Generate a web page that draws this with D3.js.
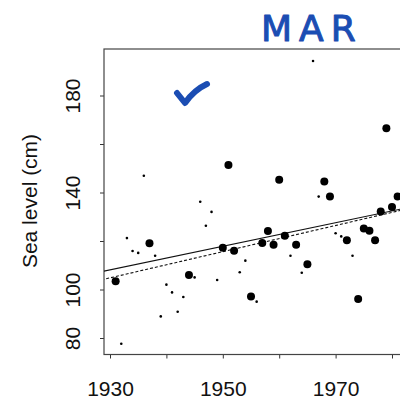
<!DOCTYPE html>
<html>
<head>
<meta charset="utf-8">
<script src="https://cdn.jsdelivr.net/npm/d3@7"></script>
<style>
  body { margin: 0; background: #fff; }
  svg { display: block; }
</style>
</head>
<body>
<div id="chart"></div>
<script>
// yearly sea level, one point per year
var years = [1931,1932,1933,1934,1935,1936,1937,1938,1939,1940,
             1941,1942,1943,1944,1945,1946,1947,1948,1949,1950,
             1951,1952,1953,1954,1955,1956,1957,1958,1959,1960,
             1961,1962,1963,1964,1965,1966,1967,1968,1969,1970,
             1971,1972,1973,1974,1975,1976,1977,1978,1979,1980,1981];
var seaLevel = [103.4,77.6,121.2,115.9,115.1,146.9,119.1,113.9,88.9,102.0,
                98.8,90.8,96.9,106.0,105.0,136.2,126.3,132.0,103.9,117.2,
                151.3,116.0,107.1,111.9,97.1,95.0,119.2,124.1,118.5,145.3,
                122.2,113.9,118.5,106.9,110.4,194.2,138.3,144.5,138.4,123.2,
                121.9,120.3,113.9,96.1,125.2,124.2,120.3,132.2,166.5,134.0,138.4];
// 1 = big dot, 0 = small dot
var bigDot = [1,0,0,0,0,0,1,0,0,0,
              0,0,0,1,0,0,0,0,0,1,
              1,1,0,0,1,0,1,1,1,1,
              1,0,1,0,1,0,0,1,1,0,
              0,1,0,1,1,1,1,1,1,1,1];

// fitted lines: [value at 1930, slope per year]
var fitSolid = [108.1, 0.486];
var fitDotted = [104.8, 0.54];

var xTicks = [1930,1940,1950,1960,1970,1980];
var xLabels = [1930,1950,1970];
var yTicks = [80,100,120,140,160,180];
var yLabels = [80,100,140,180];

var W = 400, H = 401;
var box = {left: 104, top: 49, bottom: 354.5, right: 460};

var x = d3.scaleLinear().domain([1930,1980]).range([110,392]);
var y = d3.scaleLinear().domain([80,180]).range([338,95.5]);

var svg = d3.select("#chart").append("svg")
    .attr("width", W).attr("height", H)
    .style("font-family", "'Liberation Sans', Arial, sans-serif");

svg.append("clipPath").attr("id","clip")
  .append("rect")
    .attr("x", box.left).attr("y", box.top)
    .attr("width", box.right - box.left).attr("height", box.bottom - box.top);

// axes
var xAxis = d3.axisBottom(x).tickValues(xTicks).tickSize(4).tickPadding(22.5)
    .tickFormat(function(d){ return xLabels.indexOf(d) >= 0 ? d : ""; });
var gx = svg.append("g").attr("transform","translate(0," + box.bottom + ")").call(xAxis);
gx.select(".domain").remove();
gx.selectAll("line").attr("stroke","#333");
gx.selectAll("text").attr("font-size", 21).attr("fill","#111")
  .attr("font-family","'Liberation Sans', Arial, sans-serif");

var yAxis = d3.axisLeft(y).tickValues(yTicks).tickSize(4)
    .tickFormat(function(d){ return yLabels.indexOf(d) >= 0 ? d : ""; });
var gy = svg.append("g").attr("transform","translate(" + box.left + ",0)").call(yAxis);
gy.select(".domain").remove();
gy.selectAll("line").attr("stroke","#333");
gy.selectAll("text")
  .attr("font-size", 21).attr("fill","#111")
  .attr("font-family","'Liberation Sans', Arial, sans-serif")
  .attr("x", 0).attr("y", 0).attr("dy", null)
  .attr("text-anchor","middle")
  .attr("transform","translate(-24,0) rotate(-90)");

svg.append("text")
  .attr("transform","translate(36.5,201) rotate(-90)")
  .attr("text-anchor","middle")
  .attr("font-size", 21).attr("fill","#111")
  .text("Sea level (cm)");

// frame
svg.append("rect")
  .attr("x", box.left).attr("y", box.top)
  .attr("width", box.right - box.left).attr("height", box.bottom - box.top)
  .attr("fill","none").attr("stroke","#444").attr("stroke-width",1.2);

var plot = svg.append("g").attr("clip-path","url(#clip)");

// regression lines
var lineYears = [1925, 1990];
function fitLine(fit, dash){
  plot.append("line")
    .attr("x1", x(lineYears[0])).attr("y1", y(fit[0] + fit[1]*(lineYears[0]-1930)))
    .attr("x2", x(lineYears[1])).attr("y2", y(fit[0] + fit[1]*(lineYears[1]-1930)))
    .attr("stroke","#111").attr("stroke-width",1.1)
    .attr("stroke-dasharray", dash);
}
fitLine(fitSolid, null);
fitLine(fitDotted, "3,2");

plot.selectAll("circle.pt")
  .data(years)
  .enter().append("circle")
    .attr("class","pt")
    .attr("cx", function(d){ return x(d); })
    .attr("cy", function(d,i){ return y(seaLevel[i]); })
    .attr("r", function(d,i){ return bigDot[i] ? 4 : 1.3; })
    .attr("fill","#000");

// hand-written marks
var ink = "#1b4db3";
svg.append("path")
  .attr("d","M177,93 L185,103 Q194,90 207,84")
  .attr("fill","none").attr("stroke",ink).attr("stroke-width",6)
  .attr("stroke-linecap","round").attr("stroke-linejoin","round");

svg.append("text")
  .attr("x", 261).attr("y", 41)
  .attr("font-family","'DejaVu Sans', sans-serif")
  .attr("font-size", 36).attr("letter-spacing", 7)
  .attr("fill", ink).attr("stroke", ink).attr("stroke-width", 1)
  .attr("stroke-linejoin","round")
  .text("MAR");
</script>
</body>
</html>
